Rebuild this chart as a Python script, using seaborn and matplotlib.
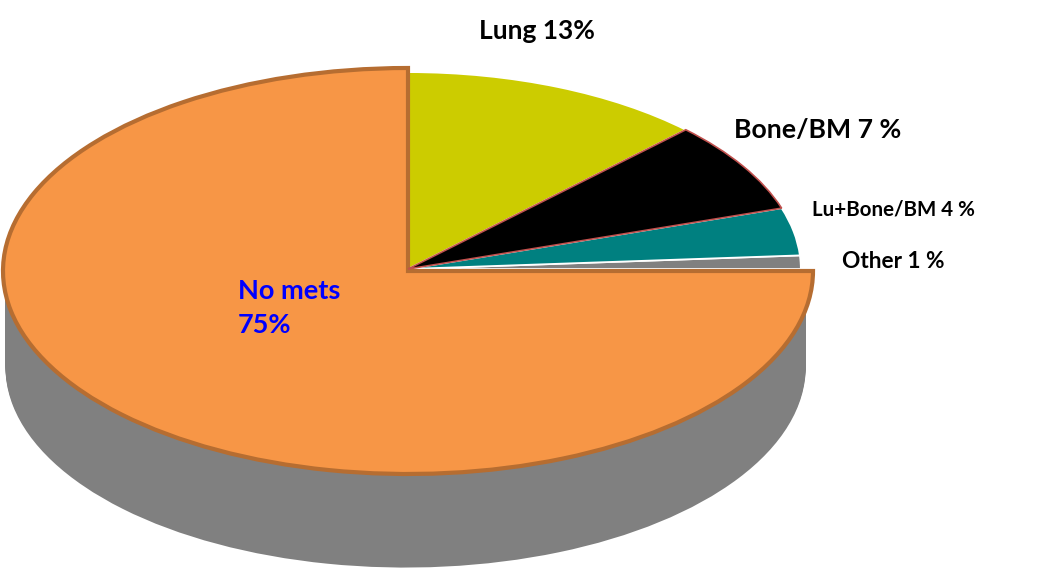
import numpy as np
import matplotlib
matplotlib.use('Agg')
import matplotlib.pyplot as plt
import seaborn as sns

# counter-clockwise from the top of the pie
categories = ['No mets', 'Other', 'Lu+Bone/BM', 'Bone/BM', 'Lung']
values = [75, 1.1, 3.9, 7.5, 12.5]
colors = ['#F79646', '#808080', '#008080', '#000000', '#CCCC00']
side_color = '#808080'
rim_color = '#B66D31'

W, H = 1059, 570
CX, CY = 408, 271
RX, RY = 405, 203
DEPTH = 96

sns.set_theme(style='white')
plt.rcParams['font.family'] = ['Lato', 'DejaVu Sans']

fig = plt.figure(figsize=(W / 100, H / 100), dpi=100)
ax = fig.add_axes([0, 0, 1, 1])

start = 90

# grey body of the 3d pie, stacked copies of the big slice going down
for d in np.linspace(DEPTH, 1, 60):
    w_side, _ = ax.pie(values, startangle=start, radius=0.988, center=(-0.006, -d / RY),
                       colors=[side_color] * len(values), wedgeprops={'linewidth': 0})
    for w in w_side[1:]:
        w.set_visible(False)

# top face, small slices first
w_small, _ = ax.pie(values, startangle=start, radius=0.97, center=(0, 2 / RY), colors=colors,
                    wedgeprops={'edgecolor': 'white', 'linewidth': 1.3})
w_small[0].set_visible(False)
w_small[3].set_edgecolor('#C0504D')
w_small[3].set_linewidth(1.2)
w_small[3].set_zorder(w_small[4].get_zorder() + 0.1)

w_big, _ = ax.pie(values, startangle=start, radius=1.0, colors=colors,
                  wedgeprops={'edgecolor': rim_color, 'linewidth': 3, 'joinstyle': 'miter'})
for w in w_big[1:]:
    w.set_visible(False)

ax.set_aspect('auto')
ax.set_xlim(-CX / RX, (W - CX) / RX)
ax.set_ylim((CY - H) / RY, CY / RY)

def label(px, py, txt, size, color='black'):
    ax.text(px / W, 1 - py / H, txt, transform=ax.transAxes, fontsize=size,
            fontweight='bold', color=color, ha='left', va='center', linespacing=1.5)

label(479, 31, 'Lung 13%', 19)
label(734, 130, 'Bone/BM 7 %', 19.2)
label(812, 209, 'Lu+Bone/BM 4 %', 14.8)
label(842, 262, 'Other 1 %', 16.3)
label(238, 308, 'No mets\n75%', 19.5, color='#0000FF')

fig.savefig('out.png', dpi=100, facecolor='white')
